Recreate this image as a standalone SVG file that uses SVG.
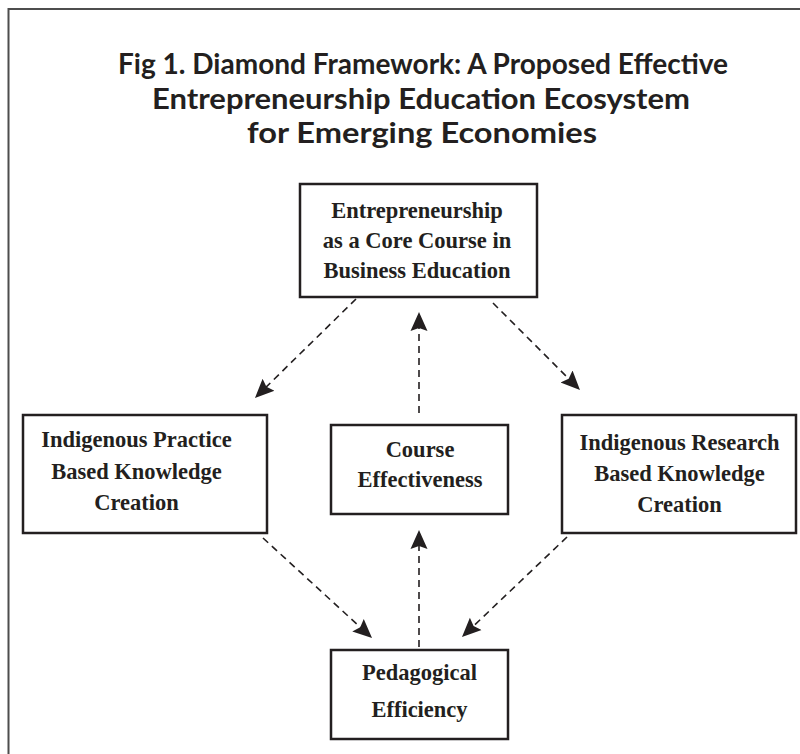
<svg xmlns="http://www.w3.org/2000/svg" width="800" height="754" viewBox="0 0 800 754">
  <style>
    .title { font-family: Lato, "Open Sans", "Liberation Sans", sans-serif; font-weight: bold; font-size: 29px; fill: #231f20; text-anchor: middle; }
    .box { fill: #ffffff; stroke: #231f20; stroke-width: 2.5; }
    .label { font-family: "Liberation Serif", "DejaVu Serif", serif; font-weight: bold; font-size: 22.5px; fill: #231f20; text-anchor: middle; }
    .link { fill: none; stroke: #231f20; stroke-width: 1.6; stroke-dasharray: 7 5; }
  </style>
  <defs>
    <marker id="arrowhead" markerUnits="userSpaceOnUse" markerWidth="22" markerHeight="20" viewBox="0 -10 22 20" refX="10" refY="0" orient="auto">
      <path d="M0,-8.5 L19,0 L0,8.5 L3,0 Z" fill="#231f20"/>
    </marker>
  </defs>

  <rect width="800" height="754" fill="#ffffff"/>

  <!-- frame: only the top and left edges fall inside the page -->
  <path d="M8.5,754 L8.5,9 L800,9" fill="none" stroke="#4d4d4d" stroke-width="2"/>

  <g id="title">
    <text class="title" x="423" y="74" textLength="610" lengthAdjust="spacingAndGlyphs">Fig 1. Diamond Framework: A Proposed Effective</text>
    <text class="title" x="421" y="109" textLength="538" lengthAdjust="spacingAndGlyphs">Entrepreneurship Education Ecosystem</text>
    <text class="title" x="422" y="143" textLength="350" lengthAdjust="spacingAndGlyphs">for Emerging Economies</text>
  </g>

  <g id="connectors">
    <!-- each line stops 9px short of its tip; the marker carries the point the rest of the way -->
    <line class="link" x1="356" y1="299" x2="261.4" y2="391.7" marker-end="url(#arrowhead)"/>
    <line class="link" x1="493" y1="303" x2="573.6" y2="383.6" marker-end="url(#arrowhead)"/>
    <line class="link" x1="419" y1="413" x2="419" y2="321" marker-end="url(#arrowhead)"/>
    <line class="link" x1="419" y1="647" x2="419" y2="539" marker-end="url(#arrowhead)"/>
    <line class="link" x1="263" y1="538" x2="365.4" y2="631.9" marker-end="url(#arrowhead)"/>
    <line class="link" x1="567" y1="537" x2="468.5" y2="630.8" marker-end="url(#arrowhead)"/>
  </g>

  <g id="core-course">
    <rect class="box" x="300" y="184" width="237" height="113"/>
    <text class="label" x="417" y="218">Entrepreneurship</text>
    <text class="label" x="417" y="248">as a Core Course in</text>
    <text class="label" x="417" y="278">Business Education</text>
  </g>

  <g id="practice-knowledge">
    <rect class="box" x="23" y="415" width="244" height="118"/>
    <text class="label" x="136.5" y="447">Indigenous Practice</text>
    <text class="label" x="136.5" y="479">Based Knowledge</text>
    <text class="label" x="136.5" y="510">Creation</text>
  </g>

  <g id="course-effectiveness">
    <rect class="box" x="331" y="425" width="177" height="89"/>
    <text class="label" x="420" y="457">Course</text>
    <text class="label" x="420" y="487">Effectiveness</text>
  </g>

  <g id="research-knowledge">
    <rect class="box" x="562" y="415" width="234" height="118"/>
    <text class="label" x="679.5" y="450">Indigenous Research</text>
    <text class="label" x="679.5" y="481">Based Knowledge</text>
    <text class="label" x="679.5" y="512">Creation</text>
  </g>

  <g id="pedagogical-efficiency">
    <rect class="box" x="331" y="650" width="177" height="89"/>
    <text class="label" x="419.5" y="680">Pedagogical</text>
    <text class="label" x="419.5" y="717">Efficiency</text>
  </g>
</svg>
